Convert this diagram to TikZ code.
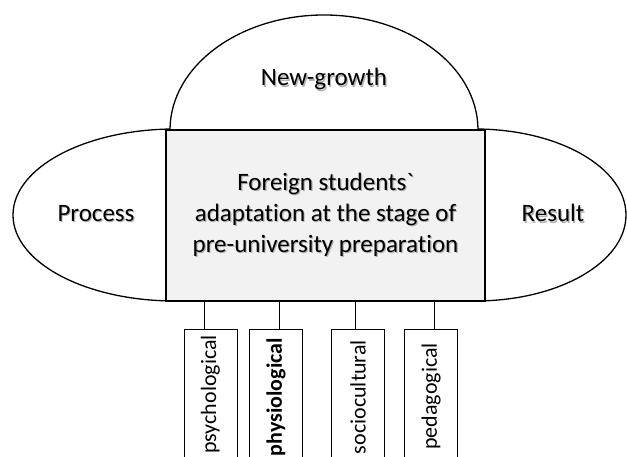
\documentclass[tikz,border=0pt]{standalone}
\usepackage{fontspec}
\setmainfont{Carlito}[Ligatures=NoCommon]
\usetikzlibrary{calc}
% text with a soft grey drop shadow
\newcommand{\shadowed}[1]{\leavevmode\rlap{\kern1.2pt\raisebox{-1.2pt}{\textcolor{black!30}{#1}}}#1}
\begin{document}
\begin{tikzpicture}[x=1pt,y=-1pt,
  outline/.style={draw=black,line width=1.3pt,fill=white},
  mainbox/.style={draw=black,line width=2.6pt,fill=black!5,
    minimum width=319pt,minimum height=171pt,inner sep=0pt,
    align=center,font=\fontsize{25}{31}\selectfont},
  side/.style={font=\fontsize{25}{30}\selectfont},
  factor/.style={draw=black,line width=0.8pt,fill=white,inner sep=0pt,
    minimum width=53pt,minimum height=150pt,anchor=north},
  factortext/.style={rotate=90,anchor=east,inner sep=0pt,
    font=\fontsize{22}{24}\selectfont},
  link/.style={draw=black,line width=0.9pt}]
\useasboundingbox (0,0) rectangle (627,457);
% side ellipses and the dome behind the central box
\draw[outline] (175,215) ellipse [x radius=162,y radius=86];
\draw[outline] (475,215) ellipse [x radius=151,y radius=86];
\draw[outline] (170,130) arc [start angle=180,end angle=360,x radius=154,y radius=115] -- cycle;
\node[side] (ng) at (324,80) {\shadowed{New-growth}};
\node[side] (proc) at (96,214) {\shadowed{Process}};
\node[side] (res) at (553,214) {\shadowed{Result}};
% central box
\node[mainbox] (main) at (325.5,215.5)
  {\shadowed{Foreign students\textasciigrave}\\\shadowed{adaptation at the stage of}\\\shadowed{pre-university preparation}};
% factor boxes below
\node[factor] (psy) at (210.5,329) {};
\node[factor] (phy) at (276,329) {};
\node[factor] (soc) at (358,329) {};
\node[factor] (ped) at (431,329) {};
\node[factortext] (psyt) at ($(psy.north)+(0,6)$) {psychological};
\node[factortext] (phyt) at ($(phy.north)+(0,9)$) {\bfseries physiological};
\node[factortext] (soct) at ($(soc.north)+(0,11)$) {sociocultural};
\node[factortext] (pedt) at ($(ped.north)+(0,14)$) {pedagogical};
% connector feet on the factor boxes
\coordinate (psyc) at ([xshift=-6.5pt]psy.north);
\coordinate (phyc) at ([xshift=3pt]phy.north);
\coordinate (socc) at ([xshift=-3pt]soc.north);
\coordinate (pedc) at ([xshift=3pt]ped.north);
% connectors, each dropping from the central box onto its factor box
\foreach \c in {psyc,phyc,socc,pedc}
  \draw[link] (\c |- main.south) -- (\c);
\end{tikzpicture}
\end{document}
